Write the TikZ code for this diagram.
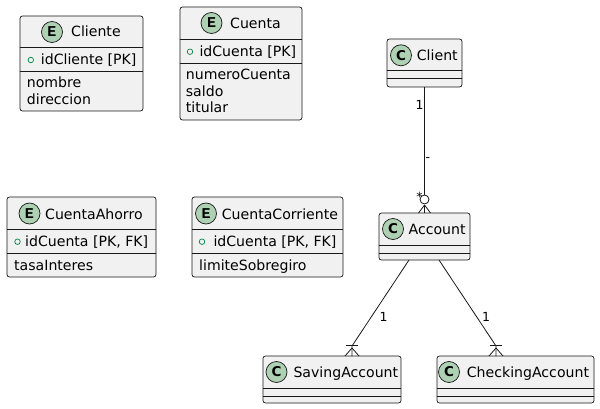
\documentclass[tikz,border=0pt]{standalone}
\usepackage{fontspec}
\setmainfont{DejaVu Sans}
\newfontfamily\spotmono{Liberation Mono}
\usetikzlibrary{calc}
\definecolor{umlline}{HTML}{181818}
\definecolor{umlfill}{HTML}{F1F1F1}
\definecolor{spotfill}{HTML}{ADD1B2}
\definecolor{visgreen}{HTML}{038048}
\begin{document}
\begin{tikzpicture}[x=1pt,y=-1pt,
  box/.style={draw=umlline, fill=umlfill, rounded corners=2.5pt, line width=0.7pt, anchor=north west, inner sep=0pt, outer sep=0pt},
  sepline/.style={draw=umlline, line width=0.7pt},
  spot/.style={circle, draw=umlline, fill=spotfill, line width=0.7pt, minimum size=21pt, inner sep=0pt},
  spotE/.style={spot, font=\spotmono\bfseries\fontsize{15}{15}\selectfont},
  spotC/.style={spot, font=\bfseries\fontsize{13.5}{13.5}\selectfont},
  txt/.style={anchor=base west, inner sep=0pt, font=\fontsize{14.1}{16.5}\selectfont},
  vis/.style={circle, draw=visgreen, line width=0.7pt, minimum size=5.5pt, inner sep=0pt},
  lbl/.style={inner sep=0pt, font=\fontsize{12.5}{14}\selectfont},
  link/.style={draw=umlline, line width=0.8pt}]
\useasboundingbox (0,0) rectangle (600,409);

% ---------- Cliente ----------
\node[box, minimum width=123pt, minimum height=95pt] (cliente) at (20,16) {};
\draw[sepline] ($(cliente.north west)+(0,31)$) -- ($(cliente.north east)+(0,31)$);
\draw[sepline] ($(cliente.north west)+(0,55)$) -- ($(cliente.north east)+(0,55)$);
\node[spotE] (clienteS) at (52,32) {E};
\node[txt] (clienteT) at (71,36.5) {Cliente};
\node[vis] (clienteV) at (30.8,60) {};
\node[txt] (clienteA) at (40.7,64.5) {idCliente [PK]};
\node[txt] (clienteB1) at (26.7,88) {nombre};
\node[txt] (clienteB2) at (26.7,104.5) {direccion};

% ---------- Cuenta ----------
\node[box, minimum width=122pt, minimum height=113pt] (cuenta) at (180,7) {};
\draw[sepline] ($(cuenta.north west)+(0,32)$) -- ($(cuenta.north east)+(0,32)$);
\draw[sepline] ($(cuenta.north west)+(0,56)$) -- ($(cuenta.north east)+(0,56)$);
\node[spotE] (cuentaS) at (211.5,23) {E};
\node[txt] (cuentaT) at (230,28.3) {Cuenta};
\node[vis] (cuentaV) at (190,51.7) {};
\node[txt] (cuentaA) at (199.3,56.5) {idCuenta [PK]};
\node[txt] (cuentaB1) at (185.7,80) {numeroCuenta};
\node[txt] (cuentaB2) at (185.7,96.5) {saldo};
\node[txt] (cuentaB3) at (185.7,113) {titular};

% ---------- CuentaAhorro ----------
\node[box, minimum width=149pt, minimum height=80pt] (ahorro) at (7,197) {};
\draw[sepline] ($(ahorro.north west)+(0,32)$) -- ($(ahorro.north east)+(0,32)$);
\draw[sepline] ($(ahorro.north west)+(0,56)$) -- ($(ahorro.north east)+(0,56)$);
\node[spotE] (ahorroS) at (29.5,213.5) {E};
\node[txt] (ahorroT) at (45,219.8) {CuentaAhorro};
\node[vis] (ahorroV) at (17.5,241.7) {};
\node[txt] (ahorroA) at (25,246.5) {idCuenta [PK, FK]};
\node[txt] (ahorroB1) at (14,270) {tasaInteres};

% ---------- CuentaCorriente ----------
\node[box, minimum width=151pt, minimum height=80pt] (corriente) at (192,197) {};
\draw[sepline] ($(corriente.north west)+(0,32)$) -- ($(corriente.north east)+(0,32)$);
\draw[sepline] ($(corriente.north west)+(0,56)$) -- ($(corriente.north east)+(0,56)$);
\node[spotE] (corrienteS) at (206,213.5) {E};
\node[txt] (corrienteT) at (221.7,219.8) {CuentaCorriente};
\node[vis] (corrienteV) at (202,241.7) {};
\node[txt] (corrienteA) at (213.3,246.5) {idCuenta [PK, FK]};
\node[txt] (corrienteB1) at (199,270) {limiteSobregiro};

% ---------- Client ----------
\node[box, minimum width=75pt, minimum height=48pt] (client) at (387,39) {};
\draw[sepline] ($(client.north west)+(0,31.5)$) -- ($(client.north east)+(0,31.5)$);
\draw[sepline] ($(client.north west)+(0,39.8)$) -- ($(client.north east)+(0,39.8)$);
\node[spotC] (clientS) at (401,55.3) {C};
\node[txt] (clientT) at (416.7,60.2) {Client};

% ---------- Account ----------
\node[box, minimum width=91pt, minimum height=47pt] (account) at (379,213) {};
\draw[sepline] ($(account.north west)+(0,32)$) -- ($(account.north east)+(0,32)$);
\draw[sepline] ($(account.north west)+(0,40)$) -- ($(account.north east)+(0,40)$);
\node[spotC] (accountS) at (393,229) {C};
\node[txt] (accountT) at (408.5,234.5) {Account};

% ---------- SavingAccount ----------
\node[box, minimum width=138pt, minimum height=47pt] (saving) at (263,356) {};
\draw[sepline] ($(saving.north west)+(0,32)$) -- ($(saving.north east)+(0,32)$);
\draw[sepline] ($(saving.north west)+(0,40)$) -- ($(saving.north east)+(0,40)$);
\node[spotC] (savingS) at (276.5,372) {C};
\node[txt] (savingT) at (293.3,377.5) {SavingAccount};

% ---------- CheckingAccount ----------
\node[box, minimum width=157pt, minimum height=47pt] (checking) at (437,356) {};
\draw[sepline] ($(checking.north west)+(0,32)$) -- ($(checking.north east)+(0,32)$);
\draw[sepline] ($(checking.north west)+(0,40)$) -- ($(checking.north east)+(0,40)$);
\node[spotC] (checkingS) at (449,372) {C};
\node[txt] (checkingT) at (466.7,377.5) {CheckingAccount};

% ---------- Client -- Account ----------
\coordinate (caApex) at ($(account.north)+(0,-8)$);
\node[circle, draw=umlline, fill=white, line width=0.8pt, minimum size=9pt, inner sep=0pt] (caCirc) at ($(account.north)+(0,-13.5)$) {};
\draw[link] (client.south) -- (caCirc.north);
\draw[link] (caApex) -- ($(account.north)+(-6,0)$);
\draw[link] (caApex) -- ($(account.north)+(6,0)$);
\draw[link] (caApex) -- (account.north);
\node[lbl] (caL1) at (419.5,104.5) {1};
\node[lbl] (caL2) at (428,159.5) {-};
\node[lbl] (caL3) at (419.5,196.5) {*};

% ---------- Account -- SavingAccount ----------
\coordinate (asTop) at ($(saving.north)+(20,-10)$);
\coordinate (asApex) at ($(saving.north)+(20,-8)$);
\draw[link] ($(account.south)+(-15.5,0)$) -- (asTop) -- ($(saving.north)+(20,0)$);
\draw[link] (asApex) -- ($(saving.north)+(13,0)$);
\draw[link] (asApex) -- ($(saving.north)+(27,0)$);
\draw[link] ($(saving.north)+(14,-11)$) -- ($(saving.north)+(26,-11)$);
\node[lbl] (asL) at (383.5,317) {1};

% ---------- Account -- CheckingAccount ----------
\coordinate (acTop) at ($(checking.north)+(-19.5,-10)$);
\coordinate (acApex) at ($(checking.north)+(-19.5,-8)$);
\draw[link] ($(account.south)+(14.5,0)$) -- (acTop) -- ($(checking.north)+(-19.5,0)$);
\draw[link] (acApex) -- ($(checking.north)+(-26.5,0)$);
\draw[link] (acApex) -- ($(checking.north)+(-12.5,0)$);
\draw[link] ($(checking.north)+(-25.5,-11)$) -- ($(checking.north)+(-13.5,-11)$);
\node[lbl] (acL) at (486,317) {1};
\end{tikzpicture}
\end{document}
